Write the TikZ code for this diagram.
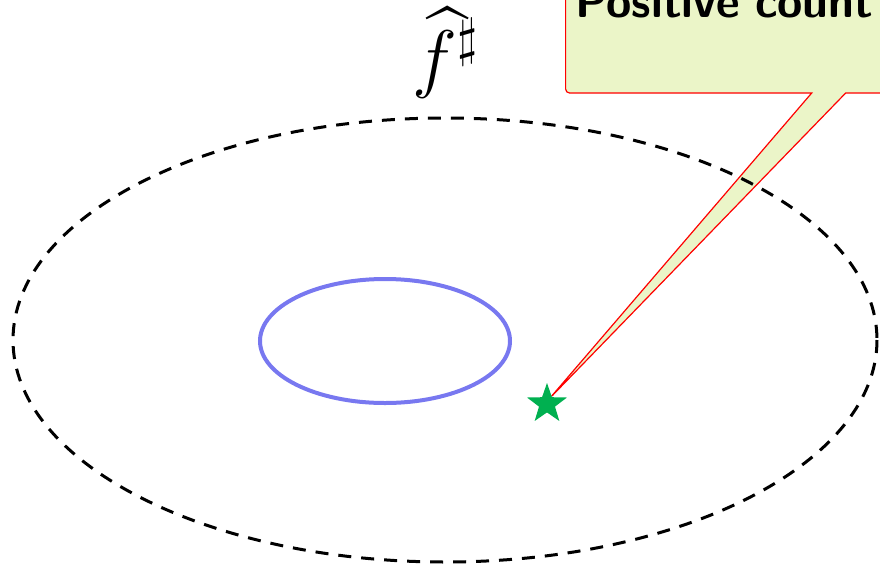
\RequirePackage{fix-cm}
\documentclass[tikz,border=0pt]{standalone}
\usepackage{amsmath,amssymb}
\usepackage{tikz}
\usetikzlibrary{shapes.geometric,shapes.callouts}
\definecolor{CalloutFill}{HTML}{EBF5C8}
\definecolor{HullBlue}{HTML}{7878F0}
\definecolor{StarGreen}{HTML}{00B050}

\begin{document}
\begin{tikzpicture}[x=0.5pt,y=-0.5pt,
          hull/.style={draw=HullBlue,line width=2pt},
          bound/.style={draw=black,line width=1.5pt,dash pattern=on 6.5pt off 5pt},
          note/.style={rectangle callout,draw=red,fill=CalloutFill,line width=0.6pt,
            rounded corners=2pt,inner sep=5pt,text width=307pt,align=left,
            text height=16pt,text depth=33pt,callout pointer width=17pt,
            font=\fontsize{23}{27}\selectfont\sffamily\bfseries}]
        \useasboundingbox (0,0) rectangle (880,569);
        \clip (0,0) rectangle (880,569);
        \coordinate (tip) at (550,398);
        \node[note, anchor=base west, callout absolute pointer=(tip)]
        (cex) at (565,17) {Positive count};
        \draw[bound] (445,340) ellipse [x radius=432, y radius=222];
        \draw[hull] (385,341) ellipse [x radius=125, y radius=62];
        \node[star, star points=5, star point ratio=2.5, fill=StarGreen,
          minimum size=21pt, inner sep=0pt] (pt) at (547,404) {};
        \node[anchor=base, font=\fontsize{38}{46}\selectfont]
        (lbl) at (446,83) {$\widehat{f}^{\sharp}$};
      \end{tikzpicture}
\end{document}
